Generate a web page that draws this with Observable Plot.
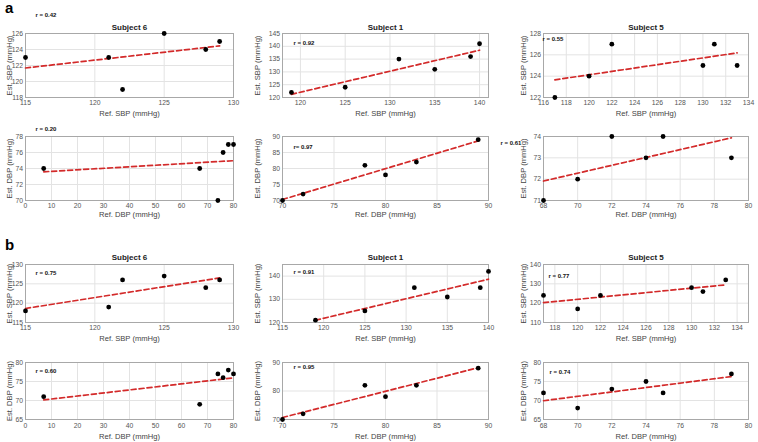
<!DOCTYPE html>
<html><head><meta charset="utf-8">
<script src="https://cdn.jsdelivr.net/npm/d3@7"></script>
<script src="https://cdn.jsdelivr.net/npm/@observablehq/plot@0.6"></script>
<style>
body{margin:0;background:#fff;}
#wrap{position:relative;width:758px;height:442px;overflow:hidden;font-family:"Liberation Sans",Arial,sans-serif;}
#wrap svg{position:absolute;}
.letter{position:absolute;font-weight:bold;font-size:15px;line-height:1;color:#000;}
</style></head><body><div id="wrap"></div>
<script>
// ---------- data (a: upper group, b: lower group) ----------
const subjects = ["Subject 6", "Subject 1", "Subject 5"];
// a, SBP
const aS6Ref = [115,121,122,125,128,129], aS6Est = [123,123,119,126,124,125];
const aS1Ref = [119,125,131,135,139,140], aS1Est = [122,124,135,131,136,141];
const aS5Ref = [117,120,122,130,131,133], aS5Est = [122,124,127,125,127,125];
// a, DBP
const aD6Ref = [7,67,74,76,78,80], aD6Est = [74,74,70,76,77,77];
const aD1Ref = [70,72,78,80,83,89], aD1Est = [70,72,81,78,82,89];
const aD5Ref = [68,70,72,74,75,79], aD5Est = [71,72,74,73,74,73];
// b, SBP
const bS6Ref = [115,121,122,125,128,129], bS6Est = [118,119,126,127,124,126];
const bS1Ref = [119,125,131,135,139,140], bS1Est = [121,125,135,131,135,142];
const bS5Ref = [117,120,122,130,131,133], bS5Est = [124,117,124,128,126,132];
// b, DBP
const bD6Ref = [7,67,74,76,78,80], bD6Est = [71,69,77,76,78,77];
const bD1Ref = [70,72,78,80,83,89], bD1Est = [70,72,82,78,82,88];
const bD5Ref = [68,70,72,74,75,79], bD5Est = [72,68,73,75,72,77];
// correlation labels
const rLabels = ["r = 0.42","r = 0.92","r = 0.55","r = 0.20","r= 0.97","r = 0.61",
                 "r = 0.75","r = 0.91","r = 0.77","r = 0.60","r = 0.95","r = 0.74"];
// axis limits and tick labels
const xLim = [[115,130],[118,141],[116,134],[0,80],[70,90],[68,80],
              [115,130],[115,140],[117,135],[0,80],[70,90],[68,80]];
const yLim = [[118,126],[120,145],[122,128],[70,78],[70,90],[71,74],
              [115,130],[120,145],[110,140],[65,80],[70,90],[65,80]];
const xTicks = [[115,120,125,130],[120,125,130,135,140],[116,118,120,122,124,126,128,130,132,134],
                [0,10,20,30,40,50,60,70,80],[70,75,80,85,90],[68,70,72,74,76,78,80],
                [115,120,125,130],[115,120,125,130,135,140],[118,120,122,124,126,128,130,132,134],
                [0,10,20,30,40,50,60,70,80],[70,75,80,85,90],[68,70,72,74,76,78,80]];
const yTicks = [[118,120,122,124,126],[120,125,130,135,140,145],[122,124,126,128],
                [70,72,74,76,78],[70,75,80,85,90],[71,72,73,74],
                [115,120,125,130],[120,130,140],[110,120,130,140],
                [65,70,75,80],[70,80,90],[65,70,75,80]];
const xLabels = ["Ref. SBP (mmHg)", "Ref. DBP (mmHg)"];
const yLabels = ["Est. SBP (mmHg)", "Est. DBP (mmHg)"];

const refs = [aS6Ref,aS1Ref,aS5Ref,aD6Ref,aD1Ref,aD5Ref,bS6Ref,bS1Ref,bS5Ref,bD6Ref,bD1Ref,bD5Ref];
const ests = [aS6Est,aS1Est,aS5Est,aD6Est,aD1Est,aD5Est,bS6Est,bS1Est,bS5Est,bD6Est,bD1Est,bD5Est];

// ---------- layout ----------
const cols = [{l:25,r:233},{l:282,r:488},{l:543,r:748}];
const rows = [{t:33,b:97},{t:136,b:200},{t:264,b:322},{t:362,b:419}];
const ylabDx = [-16,-25,-20];
const xlabDy = [16,14,16,17];
const titleDy = [-6,null,-7,null];
const rPos = [[10,-18],[11,10],[-1,6],[10,-7],[11,11],[-43,7],
              [10,9],[11,8],[5,12],[10,9],[11,5],[6,10]];

const wrap = document.getElementById("wrap");
const mL=30, mR=8, mT=22, mB=24;
const font = "Liberation Sans, Arial, sans-serif";
const fmt = d => String(d);

for (let i = 0; i < 12; i++) {
  const row = Math.floor(i/3), col = i%3;
  const c = cols[col], rw = rows[row];
  const isSBP = row % 2 === 0;
  const data = refs[i].map((x,k) => ({ref:x, est: ests[i][k]}));
  const marks = [
    Plot.gridX(xTicks[i], {stroke:"#e3e3e3", strokeOpacity:1}),
    Plot.gridY(yTicks[i], {stroke:"#e3e3e3", strokeOpacity:1}),
    Plot.frame({stroke:"#a8a8a8"}),
    Plot.axisX({ticks:xTicks[i], tickFormat:fmt, tickSize:0, tickPadding:row===3?4:3, label:null, fontSize:6.8, fill:"#555"}),
    Plot.axisY({ticks:yTicks[i], tickFormat:fmt, tickSize:0, tickPadding:2.5, label:null, fontSize:6.8, fill:"#555"}),
    Plot.text([xLabels[isSBP?0:1]], {frameAnchor:"bottom", dy:xlabDy[row], textAnchor:"middle", lineAnchor:"middle", fontSize:7.6, fill:"#444"}),
    Plot.text([yLabels[isSBP?0:1]], {frameAnchor:"left", dx:ylabDx[col], rotate:-90, textAnchor:"middle", lineAnchor:"middle", fontSize:7.6, fill:"#444"}),
    Plot.linearRegressionY(data, {x:"ref", y:"est", stroke:"#d32a2a", strokeWidth:1.7, strokeDasharray:"5,3", ci:0}),
    Plot.dot(data, {x:"ref", y:"est", r:2.4, fill:"#000", stroke:"none"}),
    Plot.text([rLabels[i]], {frameAnchor:"top-left", dx:rPos[i][0], dy:rPos[i][1], textAnchor:"start", lineAnchor:"middle", fontSize:6, fontWeight:"bold", fill:"#111"})
  ];
  if (titleDy[row] !== null) {
    marks.push(Plot.text([subjects[col]], {frameAnchor:"top", dy:titleDy[row], textAnchor:"middle", lineAnchor:"middle", fontSize:8, fontWeight:"bold", fill:"#222"}));
  }
  const svg = Plot.plot({
    width: (c.r - c.l) + mL + mR,
    height: (rw.b - rw.t) + mT + mB,
    marginLeft:mL, marginRight:mR, marginTop:mT, marginBottom:mB,
    style:{background:"transparent", fontFamily:font, overflow:"visible"},
    x:{domain:xLim[i], axis:null},
    y:{domain:yLim[i], axis:null},
    marks
  });
  svg.style.left = (c.l - mL) + "px";
  svg.style.top = (rw.t - mT) + "px";
  wrap.appendChild(svg);
}
const la = document.createElement("div"); la.className="letter"; la.textContent="a";
la.style.left="5px"; la.style.top="0px"; wrap.appendChild(la);
const lb = document.createElement("div"); lb.className="letter"; lb.textContent="b";
lb.style.left="5px"; lb.style.top="237px"; wrap.appendChild(lb);
</script></body></html>
